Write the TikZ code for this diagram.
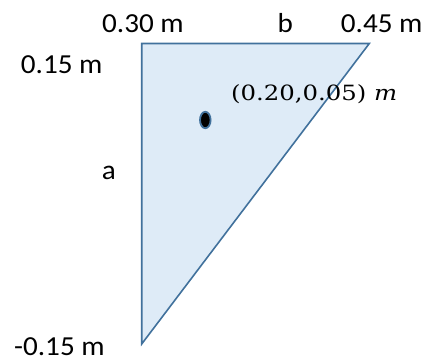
\documentclass[tikz,border=0pt]{standalone}
\usepackage{fontspec}
\setmainfont{Carlito}
\newfontfamily\serfont{DejaVu Serif}
\definecolor{edgeblue}{HTML}{41719C}
\definecolor{fillblue}{HTML}{DEEBF7}
\newcommand{\wtxt}[1]{\scalebox{1.06}[1]{#1}}
\newcommand{\mtxt}[1]{\scalebox{1.16}[1]{\serfont #1}}
\tikzset{
  lbl/.style={anchor=base west, inner sep=0pt, font=\fontsize{27.5}{32}\selectfont},
  mathlbl/.style={anchor=base west, inner sep=0pt, font=\fontsize{21}{25}\selectfont},
  plate/.style={draw=edgeblue, fill=fillblue, line width=1.6pt, line join=miter},
  dotmark/.style={ellipse, draw=edgeblue, fill=black, line width=1.8pt, minimum width=10.6pt, minimum height=16.4pt, inner sep=0pt}
}
\usetikzlibrary{shapes.geometric}
\begin{document}
\begin{tikzpicture}[x=1pt,y=-1pt]
\useasboundingbox (0,0) rectangle (436,361);
\coordinate (A) at (141.7,43.5);
\coordinate (B) at (369.3,43.5);
\coordinate (C) at (141.7,344);
\draw[plate] (A) -- (B) -- (C) -- cycle;
\node[dotmark] (dot) at (205.3,120) {};
\node[lbl] (l030) at (102,32.3) {\wtxt{0.30 m}};
\node[lbl] (lb) at (277.5,32.3) {\wtxt{b}};
\node[lbl] (l045) at (340.7,32.3) {\wtxt{0.45 m}};
\node[lbl] (l015) at (20.7,74) {\wtxt{0.15 m}};
\node[lbl] (la) at (101.7,179.3) {\wtxt{a}};
\node[lbl] (lm015) at (14,355) {\wtxt{-0.15 m}};
\node[mathlbl] (coord) at (231,100.7) {\mtxt{(0.20,0.05) \textit{m}}};
\end{tikzpicture}
\end{document}
